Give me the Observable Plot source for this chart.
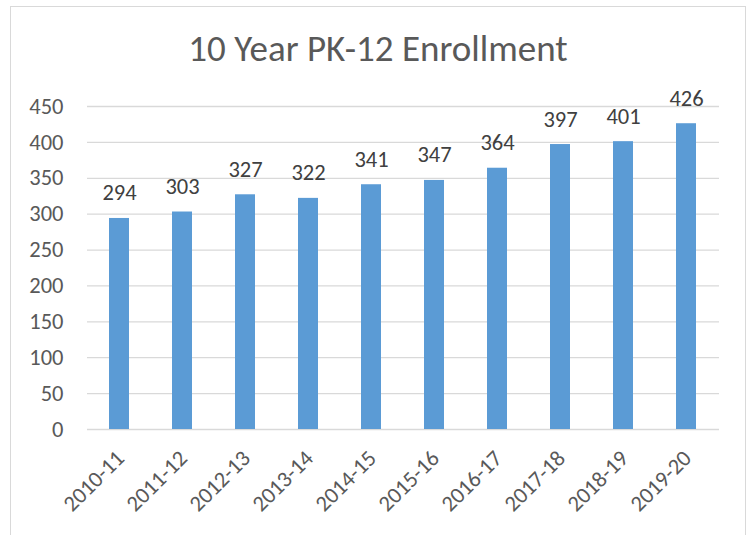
<!DOCTYPE html>
<html>
<head>
<meta charset="utf-8">
<script src="https://cdn.jsdelivr.net/npm/d3@7"></script>
<script src="https://cdn.jsdelivr.net/npm/@observablehq/plot@0.6"></script>
<style>
  html, body { margin: 0; padding: 0; background: #fff; overflow: hidden; }
  body { width: 752px; height: 535px; position: relative; font-family: Carlito, Calibri, Lato, sans-serif; }
  #frame { position: absolute; left: 10px; top: 6px; width: 736px; height: 600px; border: 1.5px solid #d9d9d9; box-sizing: border-box; }
  #title { position: absolute; left: 0; top: 29px; width: 756px; text-align: center; font-size: 37px; color: #595959; line-height: 40px; }
  #chart { position: absolute; left: 0; top: 70px; }
</style>
</head>
<body>
<div id="frame"></div>
<div id="title">10 Year PK-12 Enrollment</div>
<div id="chart"></div>
<script>
const years = ["2010-11","2011-12","2012-13","2013-14","2014-15","2015-16","2016-17","2017-18","2018-19","2019-20"];
const enrollment = [294, 303, 327, 322, 341, 347, 364, 397, 401, 426];
const yTicks = [0, 50, 100, 150, 200, 250, 300, 350, 400, 450];

const data = years.map((y, i) => ({year: y, value: enrollment[i]}));
const textColor = "#595959";
const font = "Carlito, Calibri, Lato, sans-serif";

const chart = Plot.plot({
  width: 752,
  height: 465,
  marginLeft: 87,
  marginRight: 33,
  marginTop: 36,
  marginBottom: 106,
  style: {fontFamily: font, color: textColor, background: "transparent"},
  x: {domain: years, paddingInner: 0.68, paddingOuter: 0.34, axis: null},
  y: {domain: [0, 450], axis: null},
  marks: [
    Plot.gridY(yTicks, {stroke: "#d9d9d9", strokeOpacity: 1, strokeWidth: 1.3}),
    Plot.axisY(yTicks, {tickSize: 0, tickPadding: 24, fontSize: 22.5, fill: textColor, label: null, tickFormat: d => String(d)}),
    Plot.barY(data, {x: "year", y: "value", fill: "#5B9BD5"}),
    Plot.text(data, {x: "year", y: "value", text: d => String(d.value), lineAnchor: "bottom", dy: -18, fontSize: 22.5, fill: "#404040"}),
    Plot.text(years, {x: d => d, frameAnchor: "bottom", text: d => d, rotate: -45, textAnchor: "end", lineAnchor: "middle", dx: 1, dy: 25, fontSize: 22.5, fill: textColor})
  ]
});
document.getElementById("chart").appendChild(chart);
</script>
</body>
</html>
